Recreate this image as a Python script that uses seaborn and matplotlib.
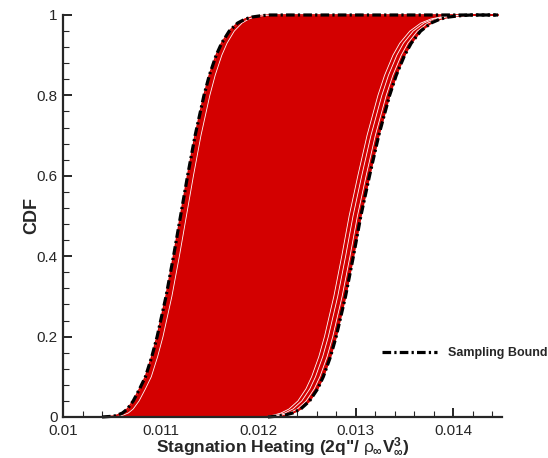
import numpy as np
import pandas as pd
import matplotlib
matplotlib.use("Agg")
import matplotlib.pyplot as plt
import seaborn as sns
from matplotlib.ticker import MultipleLocator

# CDF levels shared by all curves
cdf_levels = [0.0, 0.002, 0.005, 0.01, 0.02, 0.04, 0.07, 0.1, 0.15, 0.2, 0.3, 0.4, 0.5,
              0.6, 0.7, 0.8, 0.85, 0.9, 0.93, 0.96, 0.98, 0.99, 0.995, 0.998, 1.0, 1.0]

# sampling bounds (black dash-dot), last point = tail along CDF = 1
lower_bound = [0.01040, 0.01052, 0.01056, 0.01061, 0.01066, 0.01072, 0.010785, 0.010845,
               0.010910, 0.010965, 0.011056, 0.011133, 0.011205, 0.011277, 0.011354,
               0.011445, 0.011500, 0.011570, 0.011626, 0.011704, 0.011790, 0.011868,
               0.011939, 0.012025, 0.01212, 0.01446]
upper_bound = [0.01210, 0.012190, 0.01228, 0.012355, 0.012437, 0.012528, 0.012610, 0.012668,
               0.012742, 0.012800, 0.012896, 0.012977, 0.013053, 0.013142, 0.013236,
               0.013348, 0.013416, 0.013502, 0.013570, 0.013666, 0.013772, 0.013867,
               0.013955, 0.014060, 0.01418, 0.01446]

# gaps between sample curves that show up white
gap_left = [np.nan, 0.01058, 0.01062, 0.01067, 0.01072, 0.01078, 0.010845, 0.010905,
            0.010970, 0.011025, 0.011116, 0.011193, 0.011265, 0.011337, 0.011414, 0.011505,
            0.011560, 0.011628, 0.011682, 0.011756, 0.011836, 0.011905, 0.011965, 0.012040,
            0.01213, np.nan]
gap_right1 = [np.nan, 0.012160, 0.012245, 0.012320, 0.012402, 0.012493, 0.012575, 0.012633,
              0.012707, 0.012765, 0.012861, 0.012942, 0.013018, 0.013107, 0.013201, 0.013313,
              0.013381, 0.013467, 0.013535, 0.013632, 0.013740, 0.013837, 0.013928, 0.014040,
              0.01417, np.nan]
gap_right2 = [np.nan, 0.012130, 0.012205, 0.012275, 0.012357, 0.012448, 0.012530, 0.012588,
              0.012662, 0.012720, 0.012816, 0.012897, 0.012973, 0.013062, 0.013156, 0.013268,
              0.013336, 0.013422, 0.013490, 0.013590, 0.013700, 0.013800, 0.013895, 0.014015,
              0.01416, np.nan]
gap_right3 = [np.nan, 0.012100, 0.012165, 0.012235, 0.012317, 0.012408, 0.012490, 0.012548,
              0.012622, 0.012680, 0.012776, 0.012857, 0.012933, 0.013022, 0.013116, 0.013228,
              0.013296, 0.013382, 0.013452, 0.013555, 0.013668, 0.013770, 0.013868, 0.013992,
              0.01415, np.nan]

x_ticks = [0.01, 0.011, 0.012, 0.013, 0.014]
x_tick_labels = ["0.01", "0.011", "0.012", "0.013", "0.014"]
y_ticks = [0, 0.2, 0.4, 0.6, 0.8, 1]
y_tick_labels = ["0", "0.2", "0.4", "0.6", "0.8", "1"]

red = "#d30000"

sns.set_style("ticks")
plt.rcParams["font.family"] = ["Liberation Sans", "DejaVu Sans"]
plt.rcParams["mathtext.fontset"] = "custom"
plt.rcParams["mathtext.rm"] = "Liberation Sans:bold"
plt.rcParams["mathtext.it"] = "Liberation Sans"
plt.rcParams["mathtext.bf"] = "Liberation Sans:bold"

n = len(cdf_levels)
bounds = pd.DataFrame({
    "cdf": cdf_levels * 2,
    "x": lower_bound + upper_bound,
    "curve": ["lower"] * n + ["upper"] * n,
})
gaps = pd.DataFrame({
    "cdf": cdf_levels * 4,
    "x": gap_left + gap_right1 + gap_right2 + gap_right3,
    "curve": ["l"] * n + ["r1"] * n + ["r2"] * n + ["r3"] * n,
}).dropna()

fig = plt.figure(figsize=(5.48, 4.58), dpi=100)
ax = fig.add_axes([63 / 548, 41 / 458, 439 / 548, 402 / 458])

# envelope of the sampled CDFs
ax.fill_betweenx(cdf_levels, lower_bound, upper_bound, color=red, lw=0, zorder=1)
sns.lineplot(data=bounds, x="x", y="cdf", units="curve", estimator=None, sort=False,
             color=red, lw=1.2, ax=ax, clip_on=False, zorder=2, legend=False)
sns.lineplot(data=gaps, x="x", y="cdf", units="curve", estimator=None, sort=False,
             color="white", lw=0.6, ax=ax, zorder=3, legend=False)

dash = (0, (2.7, 1.0, 0.7, 1.0))
sns.lineplot(data=bounds[bounds["curve"] == "lower"], x="x", y="cdf", estimator=None,
             sort=False, color="black", lw=2.3, linestyle=dash, ax=ax, clip_on=False,
             zorder=4, label="Sampling Bounds")
sns.lineplot(data=bounds[bounds["curve"] == "upper"], x="x", y="cdf", estimator=None,
             sort=False, color="black", lw=2.3, linestyle=dash, ax=ax, clip_on=False,
             zorder=4, label="_nolegend_")

ax.set_xlim(0.01, 0.0145)
ax.set_ylim(0, 1)
ax.set_xticks(x_ticks)
ax.set_xticklabels(x_tick_labels)
ax.set_yticks(y_ticks)
ax.set_yticklabels(y_tick_labels)
ax.xaxis.set_minor_locator(MultipleLocator(0.0002))
ax.yaxis.set_minor_locator(MultipleLocator(0.04))
ax.tick_params(which="major", direction="in", length=6.5, width=1.4, labelsize=11, pad=4)
ax.tick_params(axis="x", which="major", pad=5)
ax.tick_params(which="minor", direction="in", length=4, width=0.8)
sns.despine(ax=ax)
for s in ["left", "bottom"]:
    ax.spines[s].set_linewidth(1.6)
    ax.spines[s].set_zorder(5)

ax.set_xlabel(r'Stagnation Heating (2q"/ $\rho_{\infty}$V$_{\infty}^{3}$)',
              fontsize=12.5, fontweight="bold", labelpad=-1.5)
ax.set_ylabel("CDF", fontsize=13, fontweight="bold", labelpad=-3)

leg = ax.legend(loc="center left", bbox_to_anchor=(382 / 548, 1 - 353 / 458),
                bbox_transform=fig.transFigure, frameon=False, borderpad=0,
                borderaxespad=0, handlelength=4.4, handletextpad=0.9,
                prop={"weight": "bold", "size": 9})

fig.savefig("out.png", dpi=100)
